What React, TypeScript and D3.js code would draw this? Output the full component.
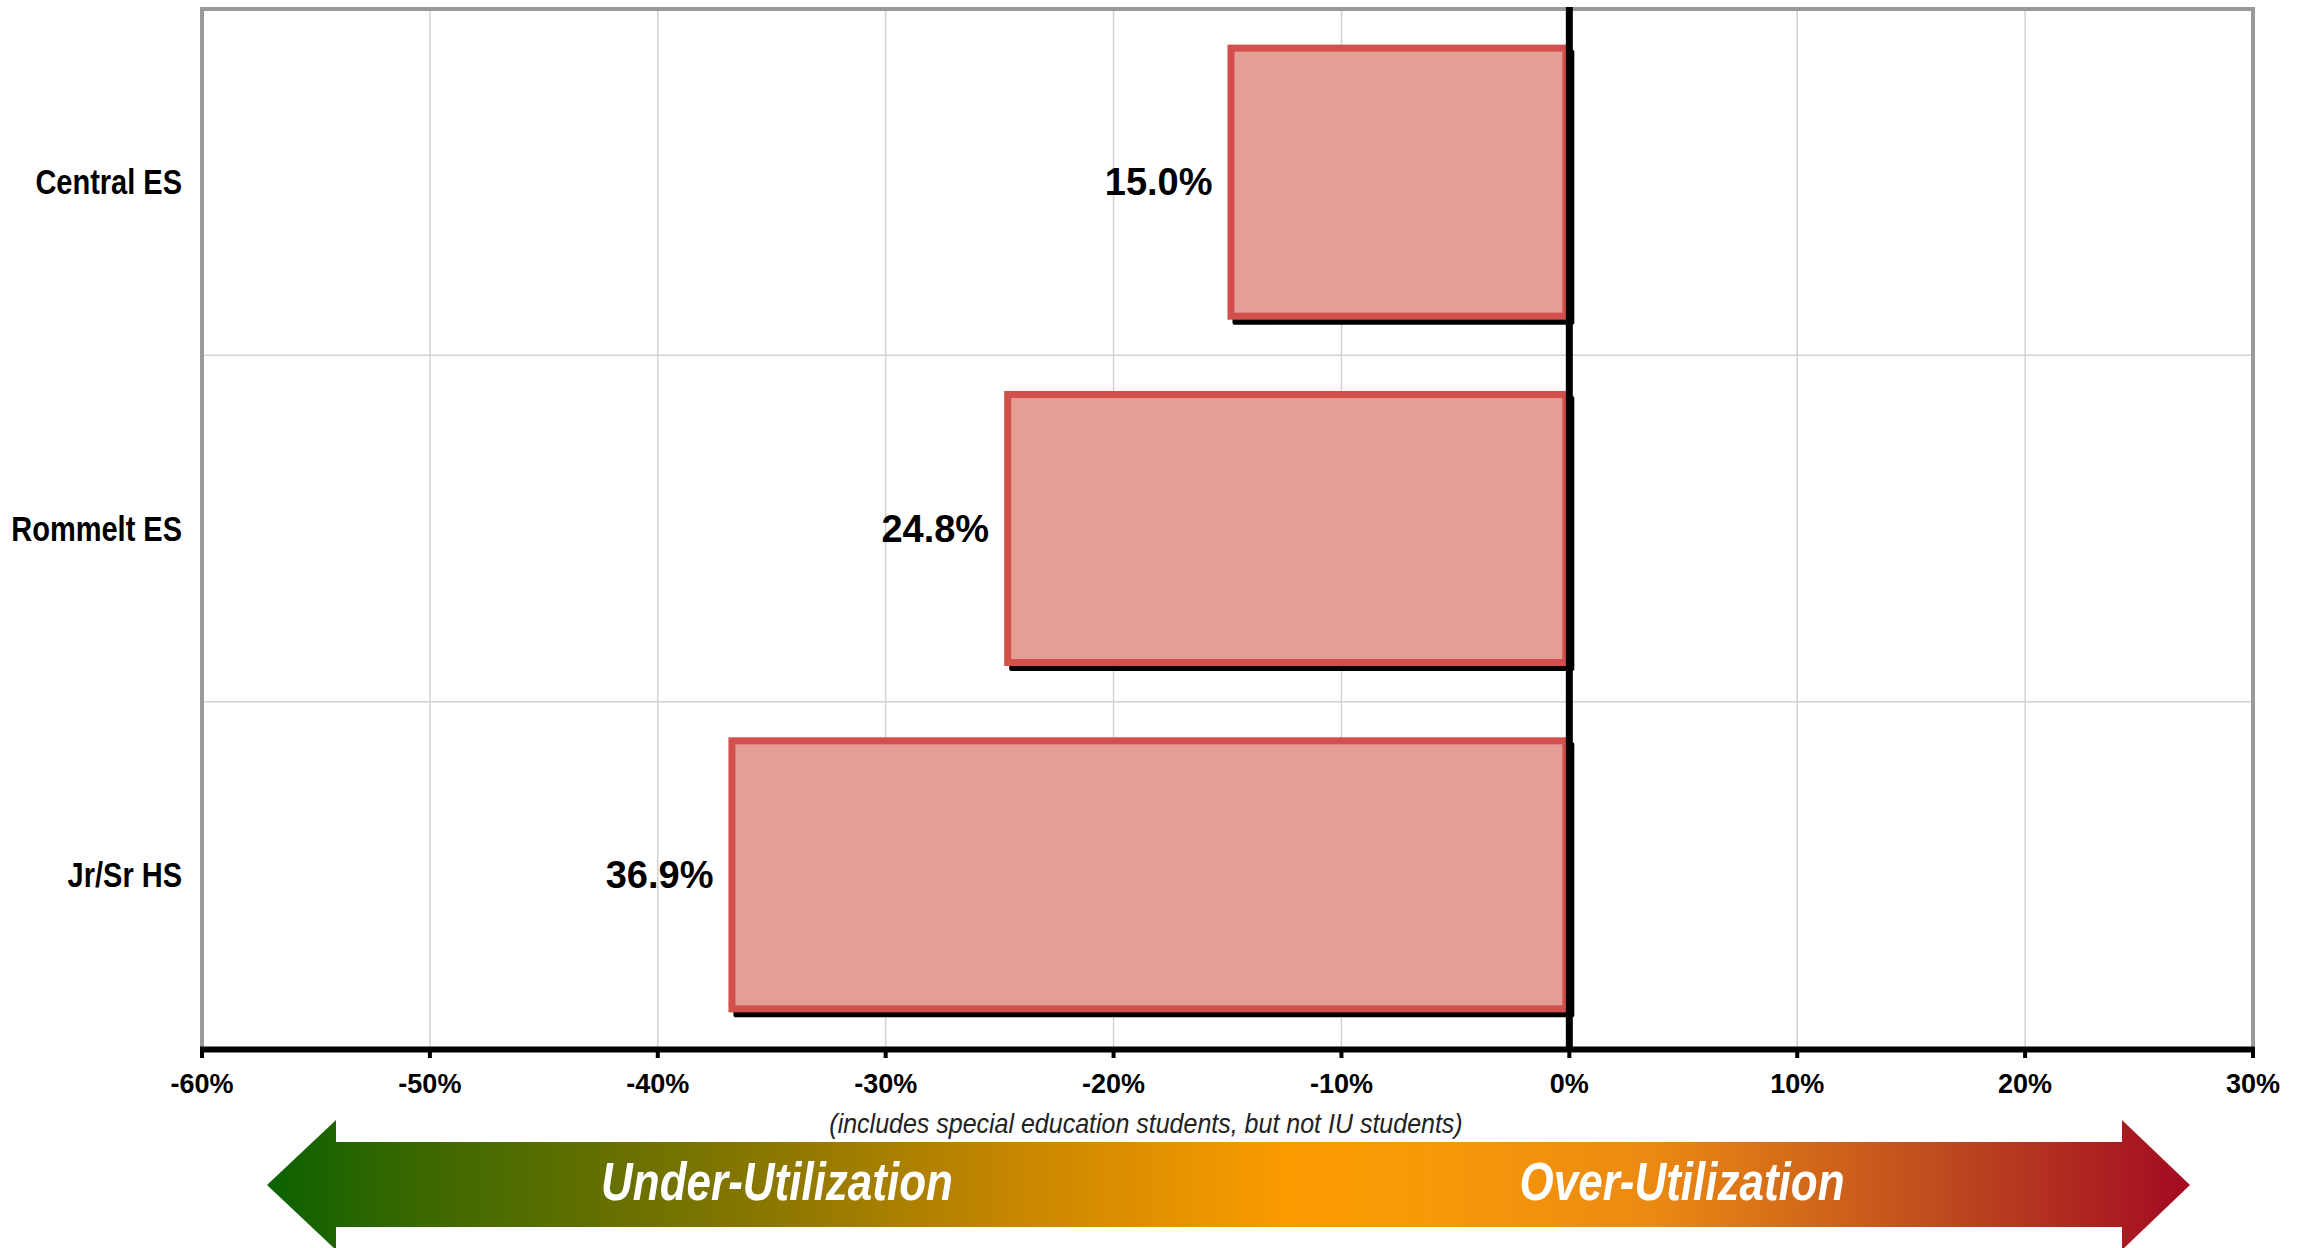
import React from "react";
import * as d3 from "d3";

const categories = ["Central ES", "Rommelt ES", "Jr/Sr HS"];
const values = [-15.0, -24.8, -36.9];
const valueLabels = ["15.0%", "24.8%", "36.9%"];
const xTicks = [-60, -50, -40, -30, -20, -10, 0, 10, 20, 30];
const footnote = "(includes special education students, but not IU students)";
const arrowLabels = ["Under-Utilization", "Over-Utilization"];

const W = 2311;
const H = 1248;
const plot = { left: 202, right: 2253, top: 9, bottom: 1048 };
const FONT = "'Liberation Sans', Arial, Helvetica, sans-serif";

export default function App() {
  const x = d3.scaleLinear().domain([-60, 30]).range([plot.left, plot.right]);
  const y = d3
    .scaleBand<string>()
    .domain(categories)
    .range([plot.top, plot.bottom])
    .paddingInner(0.226)
    .paddingOuter(0.113);
  const bw = y.bandwidth();
  const step = y.step();
  const sw = 7;
  const x0 = x(0);

  const arrowY = { top: 1142, bottom: 1227, headTop: 1120, headBottom: 1250, mid: 1185 };
  const arrowX = { tipL: 267, baseL: 336, baseR: 2122, tipR: 2190 };
  const arrowPath = [
    `M${arrowX.tipL},${arrowY.mid}`,
    `L${arrowX.baseL},${arrowY.headTop}`,
    `L${arrowX.baseL},${arrowY.top}`,
    `L${arrowX.baseR},${arrowY.top}`,
    `L${arrowX.baseR},${arrowY.headTop}`,
    `L${arrowX.tipR},${arrowY.mid}`,
    `L${arrowX.baseR},${arrowY.headBottom}`,
    `L${arrowX.baseR},${arrowY.bottom}`,
    `L${arrowX.baseL},${arrowY.bottom}`,
    `L${arrowX.baseL},${arrowY.headBottom}`,
    "Z",
  ].join(" ");

  const gridBoundaries = d3.range(1, categories.length).map((i) => plot.top + i * step);

  return (
    <svg
      width={W}
      height={H}
      style={{ position: "absolute", left: 0, top: 0, background: "#fff" }}
      fontFamily={FONT}
    >
      <defs>
        <linearGradient id="arrowGrad" gradientUnits="userSpaceOnUse" x1={arrowX.tipL} x2={arrowX.tipR} y1={0} y2={0}>
          <stop offset="0" stopColor="#0a6200" />
          <stop offset="0.08" stopColor="#3b6800" />
          <stop offset="0.25" stopColor="#857600" />
          <stop offset="0.4" stopColor="#cc8800" />
          <stop offset="0.53" stopColor="#fa9b00" />
          <stop offset="0.6" stopColor="#f89a08" />
          <stop offset="0.72" stopColor="#eb8a12" />
          <stop offset="0.86" stopColor="#c0501e" />
          <stop offset="1" stopColor="#a30a22" />
        </linearGradient>
      </defs>
      <rect x={0} y={0} width={W} height={H} fill="#fff" />

      {/* gridlines */}
      {xTicks.map((t) => (
        <line key={"g" + t} x1={x(t)} x2={x(t)} y1={plot.top} y2={plot.bottom} stroke="#d2d2d2" strokeWidth={1.5} />
      ))}
      {gridBoundaries.map((gy, i) => (
        <line key={"h" + i} x1={plot.left} x2={plot.right} y1={gy} y2={gy} stroke="#d2d2d2" strokeWidth={1.5} />
      ))}

      {/* plot border */}
      <path
        d={`M${plot.left},${plot.bottom} L${plot.left},${plot.top} L${plot.right},${plot.top} L${plot.right},${plot.bottom}`}
        fill="none"
        stroke="#9a9a9a"
        strokeWidth={4}
      />

      {/* bars */}
      {categories.map((c, i) => {
        const ox = x(values[i]);
        const ow = x0 - ox;
        const oy = (y(c) as number) - sw / 2;
        const oh = bw + sw;
        return (
          <g key={c}>
            <rect x={ox + 5} y={oy + 5} width={ow} height={oh} fill="#000" rx={2} />
            <rect
              x={ox + sw / 2}
              y={oy + sw / 2}
              width={ow - sw}
              height={oh - sw}
              fill="#e49e96"
              stroke="#d24f4b"
              strokeWidth={sw}
            />
          </g>
        );
      })}

      {/* zero line */}
      <line x1={x0} x2={x0} y1={plot.top - 2} y2={plot.bottom} stroke="#000" strokeWidth={7} />

      {/* x axis */}
      <line x1={plot.left - 2} x2={plot.right + 2} y1={plot.bottom + 1.5} y2={plot.bottom + 1.5} stroke="#000" strokeWidth={6} />
      {xTicks.map((t) => (
        <g key={"t" + t}>
          <line x1={x(t)} x2={x(t)} y1={plot.bottom} y2={plot.bottom + 10} stroke="#000" strokeWidth={4} />
          <text x={x(t)} y={1093} textAnchor="middle" fontSize={27} fontWeight="bold" fill="#000">
            {`${t}%`}
          </text>
        </g>
      ))}

      {/* category labels */}
      {categories.map((c) => {
        const cy = (y(c) as number) + bw / 2;
        return (
          <text
            key={"c" + c}
            transform={`translate(182,${cy + 12}) scale(1,1.2)`}
            textAnchor="end"
            fontSize={29}
            fontWeight="bold"
            fill="#000"
          >
            {c}
          </text>
        );
      })}

      {/* value labels */}
      {categories.map((c, i) => {
        const cy = (y(c) as number) + bw / 2;
        return (
          <text
            key={"v" + c}
            x={x(values[i]) - 15}
            y={cy + 13}
            textAnchor="end"
            fontSize={38}
            fontWeight="bold"
            fill="#000"
          >
            {valueLabels[i]}
          </text>
        );
      })}

      {/* footnote */}
      <text transform="translate(1146,1133) scale(1,1.1)" textAnchor="middle" fontSize={25} fontStyle="italic" fill="#222">
        {footnote}
      </text>

      {/* arrow */}
      <path d={arrowPath} fill="url(#arrowGrad)" />
      <text
        transform={`translate(777,1200) scale(1,1.2)`}
        textAnchor="middle"
        fontSize={44}
        fontWeight="bold"
        fontStyle="italic"
        fill="#fff"
      >
        {arrowLabels[0]}
      </text>
      <text
        transform={`translate(1682,1200) scale(1,1.2)`}
        textAnchor="middle"
        fontSize={44}
        fontWeight="bold"
        fontStyle="italic"
        fill="#fff"
      >
        {arrowLabels[1]}
      </text>
    </svg>
  );
}
